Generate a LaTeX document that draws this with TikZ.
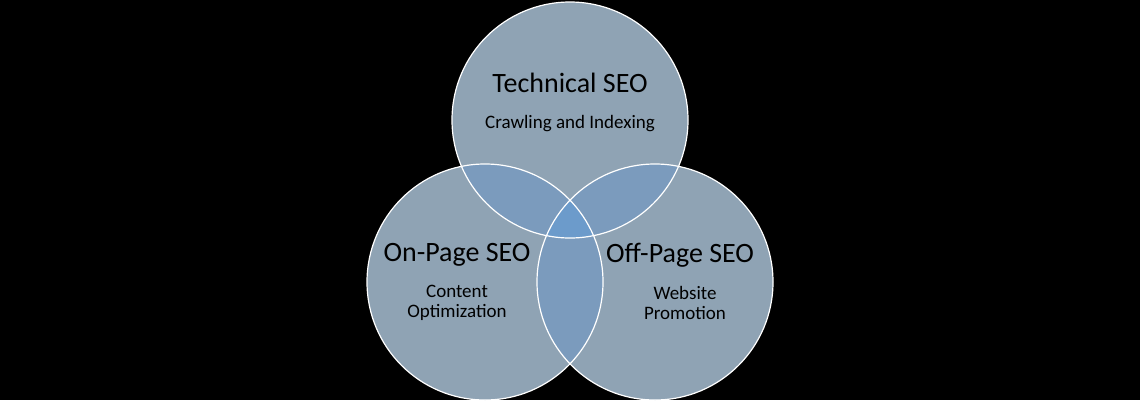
\documentclass[tikz,border=0pt]{standalone}
\usepackage{fontspec}
\setmainfont{Carlito}
\begin{document}
\begin{tikzpicture}[x=1pt,y=-1pt,
  title/.style={text=black,font=\fontsize{28}{32}\selectfont},
  sub/.style={text=black,font=\fontsize{19}{20}\selectfont,align=center}]
\definecolor{base}{HTML}{8FA3B4}
\definecolor{two}{HTML}{7B9BBD}
\definecolor{three}{HTML}{6C9BCB}
\fill[black] (0,0) rectangle (1140,400);
\useasboundingbox (0,0) rectangle (1140,400);
\begin{scope}
\clip (0,0) rectangle (1140,400);
\coordinate (ct) at (570,120);
\coordinate (cl) at (485,282);
\coordinate (cr) at (655,282);
\def\R{118}
\fill[base] (ct) circle (\R) (cl) circle (\R) (cr) circle (\R);
\begin{scope}\clip (ct) circle (\R); \fill[two] (cl) circle (\R); \fill[two] (cr) circle (\R);\end{scope}
\begin{scope}\clip (cl) circle (\R); \fill[two] (cr) circle (\R);\end{scope}
\begin{scope}\clip (ct) circle (\R); \clip (cl) circle (\R); \fill[three] (cr) circle (\R);\end{scope}
\draw[white,line width=1.2] (ct) circle (\R) (cl) circle (\R) (cr) circle (\R);
\end{scope}
\node[title] (t1) at (570,83) {Technical SEO};
\node[sub] (s1) at (570,124) {Crawling and Indexing};
\node[title] (t2) at (457,255) {On-Page SEO};
\node[sub] (s2) at (457,303) {Content\\Optimization};
\node[title] (t3) at (680,255) {Off-Page SEO};
\node[sub] (s3) at (685,303) {Website\\Promotion};
\end{tikzpicture}
\end{document}
